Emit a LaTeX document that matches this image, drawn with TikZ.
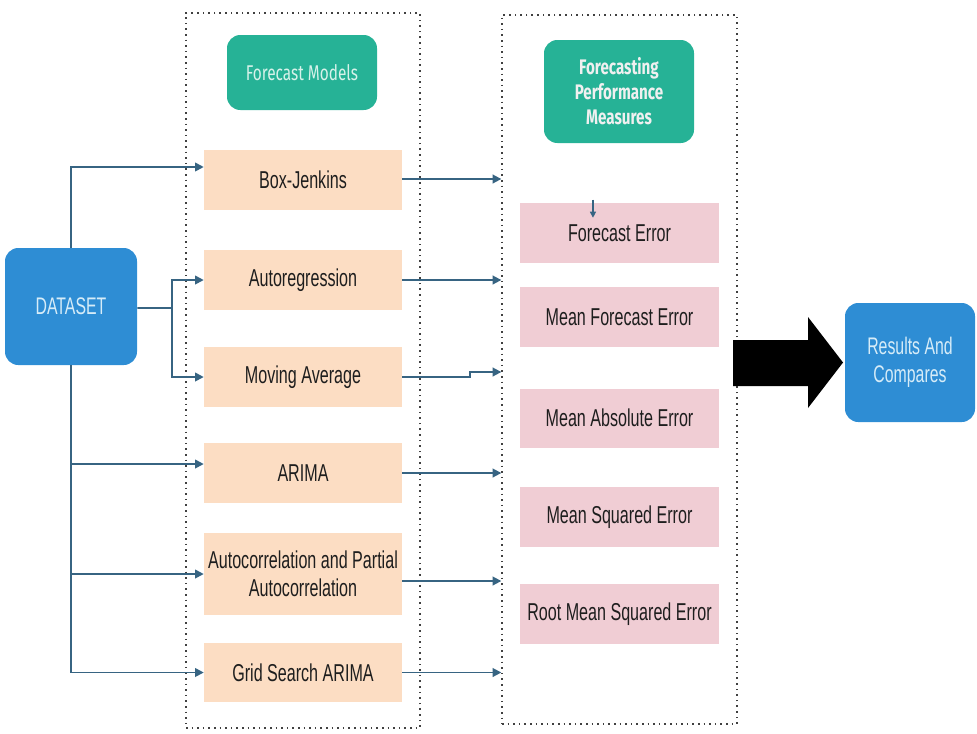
\documentclass[tikz,border=0pt]{standalone}
\usepackage{fontspec}
\setmainfont{Liberation Sans}[FakeStretch=0.66]
\newfontfamily\hdfont{Fira Sans}[FakeStretch=0.72]
\usetikzlibrary{arrows.meta,calc}
\definecolor{dsblue}{RGB}{46,141,212}
\definecolor{hdteal}{RGB}{38,178,150}
\definecolor{peach}{RGB}{252,221,195}
\definecolor{rose}{RGB}{240,205,212}
\definecolor{wire}{RGB}{55,100,130}
\definecolor{ink}{RGB}{30,30,30}
\definecolor{paleblue}{RGB}{214,236,248}
\definecolor{paleteal}{RGB}{215,242,234}
\tikzset{
  panel/.style={draw=black!75, line width=1pt, dash pattern=on 1.2pt off 3pt, inner sep=0pt},
  bluebox/.style={fill=dsblue, rounded corners=10pt, inner sep=0pt, text=paleblue, align=center,
    font=\fontsize{18}{21}\selectfont, minimum width=99pt},
  headbox/.style={fill=hdteal, rounded corners=10pt, inner sep=0pt, align=center,
    minimum width=112.5pt},
  modelbox/.style={fill=peach, inner sep=0pt, text=ink, align=center,
    font=\fontsize{18.3}{21}\selectfont, minimum width=148.5pt, minimum height=45pt},
  measurebox/.style={fill=rose, inner sep=0pt, text=ink, align=center,
    font=\fontsize{18.3}{21}\selectfont, minimum width=149.25pt, minimum height=45pt},
  wireline/.style={draw=wire, line width=1.3pt},
  wirearrow/.style={wireline, -{Triangle[length=6.5pt,width=6.5pt]}},
}
\begin{document}
\begin{tikzpicture}[x=0.75pt, y=-0.75pt]
  \useasboundingbox (0,0) rectangle (977,733);

  % dotted panels
  \node[panel, minimum width=175.5pt, minimum height=536.25pt] (lpanel) at (303,370.5) {};
  \node[panel, minimum width=176.25pt, minimum height=531.75pt] (rpanel) at (619.5,369.5) {};

  % source and result
  \node[bluebox, minimum height=87.75pt] (ds) at (71,306.5) {DATASET};
  \node[bluebox, minimum width=97.5pt, minimum height=89.25pt] (res) at (910,362.5) {Results And\\Compares};

  % panel headers
  \node[headbox, minimum height=56.25pt, text=paleteal,
        font=\hdfont\fontsize{16}{19}\selectfont] (fm) at (302,72.5) {Forecast Models};
  \node[headbox, minimum height=77.25pt, text=white!94!black,
        font=\hdfont\bfseries\fontsize{15.8}{18.75}\selectfont] (fpm) at (619,91.5)
        {Forecasting\\Performance\\Measures};

  % forecast models
  \node[modelbox] (bj)  at (303,180) {Box-Jenkins};
  \node[modelbox] (ar)  at (303,280) {Autoregression};
  \node[modelbox] (ma)  at (303,377) {Moving Average};
  \node[modelbox] (ari) at (303,473) {ARIMA};
  \node[modelbox, minimum height=61.5pt] (ac) at (303,574) {Autocorrelation and Partial\\Autocorrelation};
  \node[modelbox, minimum height=44.25pt] (gs) at (303,672.5) {Grid Search ARIMA};

  % performance measures
  \node[measurebox] (fe)   at (619.5,233) {Forecast Error};
  \node[measurebox] (mfe)  at (619.5,317) {Mean Forecast Error};
  \node[measurebox, minimum height=44.25pt] (mae)  at (619.5,418) {Mean Absolute Error};
  \node[measurebox] (mse)  at (619.5,517) {Mean Squared Error};
  \node[measurebox] (rmse) at (619.5,614) {Root Mean Squared Error};

  % dataset feeds the models
  \draw[wirearrow] (ds.north) |- ([yshift=9.75pt]bj.west);
  \draw[wireline] (ds.south) -- (ds.south |- gs.west);
  \draw[wirearrow] (ds.south |- gs.west) -- (gs.west);
  \draw[wirearrow] (ds.south |- ac.west) -- (ac.west);
  \draw[wirearrow] ([yshift=6.75pt]ari.west -| ds.south) -- ([yshift=6.75pt]ari.west);
  \coordinate (split) at ($(ds.east)+(35,1.5)$);
  \draw[wireline] ([yshift=-1.1pt]ds.east) -- (split);
  \draw[wirearrow] (split) |- (ar.west);
  \draw[wirearrow] (split) |- (ma.west);

  % models feed the measures panel
  \draw[wirearrow] ([yshift=0.75pt]bj.east) -- ([yshift=0.75pt]bj.east -| rpanel.west);
  \draw[wirearrow] (ar.east) -- (ar.east -| rpanel.west);
  \coordinate (steplow) at ($(ma.east)+(68,0)$);
  \coordinate (stephigh) at ($(ma.east)+(68,-5)$);
  \draw[wirearrow] (ma.east) -- (steplow) -- (stephigh) -- (stephigh -| rpanel.west);
  \draw[wirearrow] (ari.east) -- (ari.east -| rpanel.west);
  \draw[wirearrow] ([yshift=-5.25pt]ac.east) -- ([yshift=-5.25pt]ac.east -| rpanel.west);
  \draw[wirearrow] (gs.east) -- (gs.east -| rpanel.west);

  % small marker into the first measure
  \draw[wireline, line width=0.9pt, -{Triangle[length=4.5pt,width=4.5pt]}]
    ([xshift=-19.9pt,yshift=2.25pt]fe.north) -- ([xshift=-19.9pt,yshift=-11.25pt]fe.north);

  % big arrow towards the results
  \fill[black] (733,340) -- (808,340) -- (808,317) -- (843,362.5) -- (808,408) -- (808,386) -- (733,386) -- cycle;
\end{tikzpicture}
\end{document}
